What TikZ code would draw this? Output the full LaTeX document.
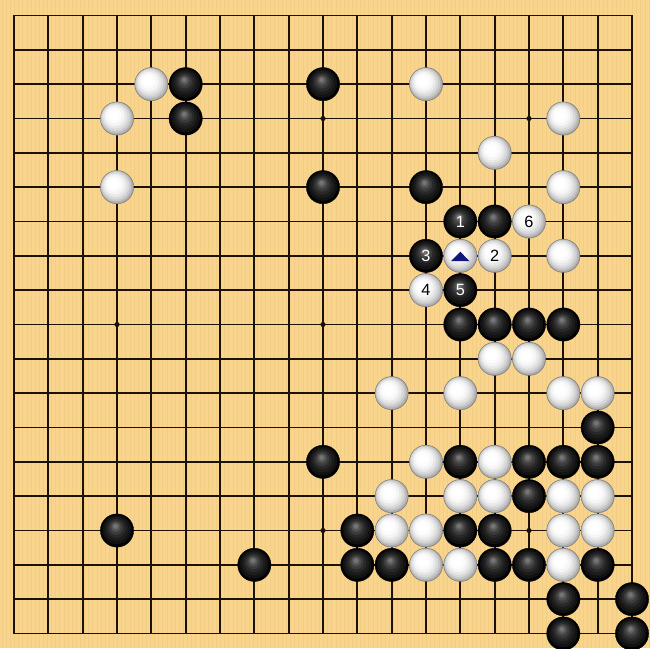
\documentclass[tikz,border=0pt]{standalone}
\usepackage{fontspec}
\setsansfont{Liberation Sans}
\usetikzlibrary{positioning}
\definecolor{boardwood}{RGB}{249,212,140}
\definecolor{woodgrain}{RGB}{244,205,132}
\definecolor{gridink}{RGB}{28,18,4}
\definecolor{marknavy}{RGB}{18,24,120}
\tikzset{
	stone/.style={
		circle,
		inner sep=0pt,
		minimum size=0.97cm,
		font=\sffamily\fontsize{13.5}{14}\selectfont},
	bstone/.style={stone, fill=black, draw=black, line width=0.3pt, text=white,
		path picture={
			\foreach \rad/\tone/\dx/\dy in {0.42/93/-0.005/0.02, 0.35/89/-0.012/0.04, 0.28/84/-0.02/0.06, 0.21/77/-0.027/0.08, 0.15/69/-0.033/0.10, 0.10/61/-0.038/0.115, 0.06/54/-0.042/0.125}
				\fill[black!\tone] ([shift={(\dx,\dy)}]path picture bounding box.center) circle (\rad);
		}},
	wstone/.style={stone, fill=black!38, draw=black!55, line width=0.3pt, text=black,
		path picture={
			\foreach \rad/\tone/\dx/\dy in {0.47/30/-0.01/0.01, 0.44/22/-0.025/0.025, 0.40/15/-0.04/0.04, 0.35/9/-0.055/0.055, 0.29/4/-0.07/0.07, 0.22/1/-0.085/0.085, 0.15/0/-0.095/0.095}
				\fill[black!\tone] ([shift={(\dx,\dy)}]path picture bounding box.center) circle (\rad);
		}},
	boardline/.style={draw=gridink, line width=1.4pt},
	hoshi/.style={fill=gridink},
	lastmark/.style={fill=marknavy},
}
\begin{document}
\begin{tikzpicture}
	% board
	\useasboundingbox (-0.408,0.4515) rectangle (18.524,-18.425);
	\fill[boardwood] (-0.408,0.4515) rectangle (18.524,-18.425);
	\foreach \x in {-0.35,-0.23,...,18.5}
		\draw[woodgrain, line width=0.35pt] (\x,0.4515) -- (\x,-18.425);
	\foreach \i in {1,...,17} {
		\draw[boardline] (\i,0) -- (\i,-18);
		\draw[boardline] (0,-\i) -- (18,-\i);
	}
	\draw[boardline, line join=miter] (0,0) rectangle (18,-18);
	\foreach \c/\r in {3/3,9/3,15/3,3/9,9/9,15/9,3/15,9/15,15/15}
		\fill[hoshi] (\c,-\r) circle (0.075);
	
	% black stones
	\foreach \c/\r in {5/2,9/2,5/3,9/5,12/5,14/6,13/9,14/9,15/9,16/9,17/12,9/13,13/13,15/13,16/13,17/13,15/14,3/15,10/15,13/15,14/15,7/16,10/16,11/16,14/16,15/16,17/16,16/17,18/17,16/18,18/18}
		\node[bstone] (b-\c-\r) at (\c,-\r) {};
	% white stones
	\foreach \c/\r in {4/2,12/2,3/3,16/3,14/4,3/5,16/5,16/7,14/10,15/10,11/11,13/11,16/11,17/11,12/13,14/13,11/14,13/14,14/14,16/14,17/14,11/15,12/15,16/15,17/15,12/16,13/16,16/16}
		\node[wstone] (w-\c-\r) at (\c,-\r) {};
	
	% numbered moves
	\node[bstone] (move1) at (13,-6) {1};
	\node[wstone] (move2) at (14,-7) {2};
	\node[bstone] (move3) at (12,-7) {3};
	\node[wstone] (move4) at (12,-8) {4};
	\node[bstone] (move5) at (13,-8) {5};
	\node[wstone] (move6) at (15,-6) {6};
	
	% marked stone
	\node[wstone] (marked) at (13,-7) {};
	\fill[lastmark] ([shift={(0,0.117)}]marked.center) -- ([shift={(0.27,-0.155)}]marked.center) -- ([shift={(-0.27,-0.155)}]marked.center) -- cycle;
\end{tikzpicture}
\end{document}
